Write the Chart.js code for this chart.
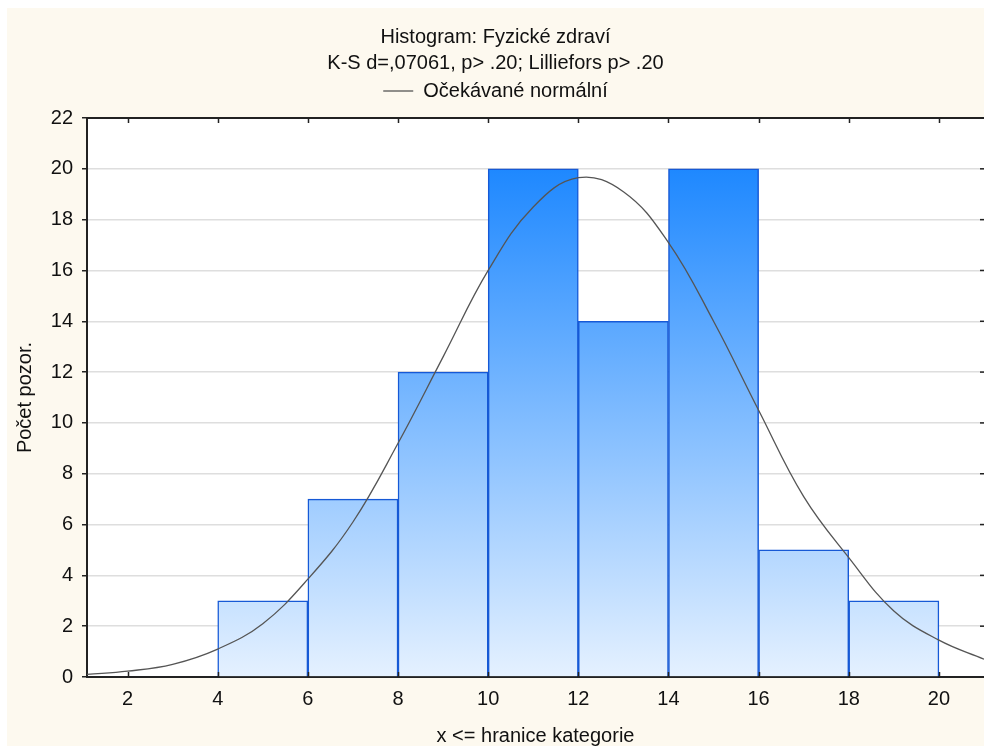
<!DOCTYPE html>
<html>
<head>
<meta charset="utf-8">
<script src="https://cdn.jsdelivr.net/npm/chart.js@4"></script>
<style>
  html, body { margin: 0; padding: 0; background: #ffffff; }
  canvas { display: block; }
</style>
</head>
<body>
<canvas id="myChart" width="984" height="746"></canvas>
<script>
// histogram bins (centres), counts and the expected normal curve
const binCenters = [5, 7, 9, 11, 13, 15, 17, 19];
const counts = [3, 7, 12, 20, 14, 20, 5, 3];
const curveX = [1.1, 2, 3, 4, 5, 6, 7, 8, 9, 10, 11, 12, 13, 14, 15, 16, 17, 18, 19, 20, 21];
const curveY = [0.1, 0.23, 0.5, 1.1, 2.1, 3.85, 6.1, 9.2, 12.6, 16.0, 18.5, 19.65, 19.1, 17.1, 14.0, 10.5, 7.1, 4.7, 2.6, 1.45, 0.7];
const xTicks = [2, 4, 6, 8, 10, 12, 14, 16, 18, 20];

const FONT = "'Liberation Sans', Arial, sans-serif";

// background: cream panel + white plot area, plus top border and inner tick marks
const framePlugin = {
  id: "frame",
  beforeDraw(chart) {
    const { ctx, chartArea } = chart;
    ctx.save();
    ctx.fillStyle = "#ffffff";
    ctx.fillRect(0, 0, chart.width, chart.height);
    ctx.fillStyle = "#fdf9ef";
    ctx.fillRect(7, 8, chart.width - 7, chart.height - 8);
    ctx.fillStyle = "#ffffff";
    ctx.fillRect(chartArea.left, chartArea.top, chartArea.right - chartArea.left, chartArea.bottom - chartArea.top);
    ctx.restore();
  },
  afterDatasetsDraw(chart) {
    const { ctx, chartArea, scales } = chart;
    ctx.save();
    ctx.strokeStyle = "#222";
    ctx.lineWidth = 2;
    // top border
    ctx.beginPath();
    ctx.moveTo(chartArea.left, chartArea.top);
    ctx.lineTo(chartArea.right, chartArea.top);
    ctx.stroke();
    ctx.lineWidth = 1.5;
    // x ticks pointing inwards at top and bottom
    xTicks.forEach((v) => {
      const px = Math.round(scales.x.getPixelForValue(v)) + 0.5;
      ctx.beginPath();
      ctx.moveTo(px, chartArea.bottom);
      ctx.lineTo(px, chartArea.bottom - 5);
      ctx.moveTo(px, chartArea.top);
      ctx.lineTo(px, chartArea.top + 5);
      ctx.stroke();
    });
    // y ticks on the right edge
    scales.y.ticks.forEach((t) => {
      const py = scales.y.getPixelForValue(t.value);
      ctx.beginPath();
      ctx.moveTo(chartArea.right - 4, py);
      ctx.lineTo(chartArea.right, py);
      ctx.stroke();
    });
    ctx.restore();
  },
};

function barGradient(context) {
  const chart = context.chart;
  const { chartArea, scales } = chart;
  if (!chartArea) return "#5aa8ff";
  const top = scales.y.getPixelForValue(20);
  const bottom = scales.y.getPixelForValue(0);
  const g = chart.ctx.createLinearGradient(0, top, 0, bottom);
  g.addColorStop(0, "rgb(30,136,255)");
  g.addColorStop(1, "rgb(229,241,255)");
  return g;
}

new Chart(document.getElementById("myChart"), {
  type: "bar",
  data: {
    datasets: [
      {
        type: "bar",
        label: "Počet",
        data: binCenters.map((x, i) => ({ x: x, y: counts[i] })),
        backgroundColor: barGradient,
        borderColor: "#1659d6",
        borderWidth: 1.5,
        borderSkipped: "bottom",
        barPercentage: 1,
        categoryPercentage: 1,
        order: 2,
      },
      {
        type: "line",
        label: "Očekávané normální",
        data: curveX.map((x, i) => ({ x: x, y: curveY[i] })),
        borderColor: "#555555",
        borderWidth: 1.3,
        pointRadius: 0,
        fill: false,
        tension: 0.4,
        order: 1,
      },
    ],
  },
  options: {
    responsive: false,
    animation: false,
    layout: { padding: { left: 7, right: 0, top: 0, bottom: 0 } },
    plugins: {
      tooltip: { enabled: false },
      title: {
        display: true,
        text: ["Histogram: Fyzické zdraví", "K-S d=,07061, p> .20; Lilliefors p> .20"],
        color: "#111",
        font: { family: FONT, size: 20, weight: "normal", lineHeight: 1.3 },
        padding: { top: 24, bottom: 0 },
      },
      // empty spacer between the legend and the plot
      subtitle: {
        display: true,
        text: "",
        weight: 500,
        font: { size: 1, lineHeight: 1 },
        padding: { top: 0, bottom: 6 },
      },
      legend: {
        display: true,
        labels: {
          filter: (item) => item.datasetIndex === 1,
          usePointStyle: true,
          pointStyle: "line",
          pointStyleWidth: 30,
          color: "#111",
          font: { family: FONT, size: 20 },
          padding: 5,
        },
      },
    },
    scales: {
      x: {
        type: "linear",
        min: 1.1,
        max: 21,
        offset: false,
        afterBuildTicks: (scale) => {
          scale.ticks = xTicks.map((v) => ({ value: v }));
        },
        afterFit: (scale) => {
          scale.height = 69;
        },
        grid: { display: false, drawTicks: false },
        border: { display: true, color: "#222", width: 2 },
        ticks: {
          color: "#111",
          font: { family: FONT, size: 20 },
          padding: 10,
          maxRotation: 0,
        },
        title: {
          display: true,
          text: "x <= hranice kategorie",
          color: "#111",
          font: { family: FONT, size: 20, lineHeight: 1 },
          padding: { top: 0, bottom: 0 },
        },
      },
      y: {
        min: 0,
        max: 22,
        afterFit: (scale) => {
          scale.width = 80;
        },
        grid: {
          color: "#dedede",
          lineWidth: 1.5,
          drawTicks: true,
          tickLength: 5,
          tickColor: "#222",
          tickWidth: 1.5,
        },
        border: { display: true, color: "#222", width: 2 },
        ticks: {
          stepSize: 2,
          color: "#111",
          font: { family: FONT, size: 20 },
          padding: 9,
        },
        title: {
          display: true,
          text: "Počet pozor.",
          color: "#111",
          font: { family: FONT, size: 20 },
          padding: { top: 6, bottom: 0 },
        },
      },
    },
  },
  plugins: [framePlugin],
});
</script>
</body>
</html>
